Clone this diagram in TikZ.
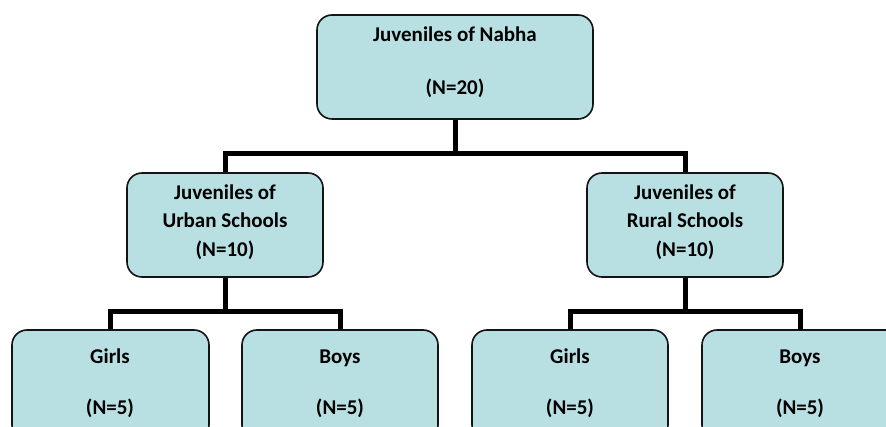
\documentclass[tikz,border=0pt]{standalone}
\usepackage{fontspec}
\setmainfont{Carlito}
\definecolor{boxfill}{RGB}{184,223,226}
\definecolor{boxline}{RGB}{20,20,20}
\begin{document}
\begin{tikzpicture}[x=1pt,y=-1pt,
  box/.style={draw=boxline,line width=1.6pt,fill=boxfill,rounded corners=15pt,inner sep=0pt},
  lbl/.style={font=\fontsize{21}{25}\selectfont\bfseries,inner sep=0pt,anchor=base},
  conn/.style={line width=5pt,draw=black}]
\useasboundingbox (0,0) rectangle (886,427);
\clip (0,0) rectangle (886,427);
% boxes
\node[box,minimum width=276pt,minimum height=104pt] (top) at (455,67) {};
\node[box,minimum width=196pt,minimum height=104pt] (ml) at (225,225) {};
\node[box,minimum width=196pt,minimum height=104pt] (mr) at (685,225) {};
\node[box,minimum width=197pt,minimum height=110pt] (g1) at (110.5,385) {};
\node[box,minimum width=196pt,minimum height=110pt] (b1) at (340,385) {};
\node[box,minimum width=196pt,minimum height=110pt] (g2) at (570,385) {};
\node[box,minimum width=216pt,minimum height=110pt] (b2) at (810,385) {};
% connectors
\coordinate (bar0) at (455,154);
\coordinate (bar1) at (225,312);
\coordinate (bar2) at (685,312);
\coordinate (b2top) at (800,330);
\draw[conn] (top.south) -- (bar0);
\draw[conn] (ml.north) |- (bar0) -| (mr.north);
\draw[conn] (ml.south) -- (bar1);
\draw[conn] (g1.north) |- (bar1) -| (b1.north);
\draw[conn] (mr.south) -- (bar2);
\draw[conn] (g2.north) |- (bar2) -| (b2top);
% texts
\node[lbl] (t1) at (455,42) {Juveniles of Nabha};
\node[lbl] (t2) at (455,95) {(N=20)};
\node[lbl] (t3) at (225,200) {Juveniles of};
\node[lbl] (t4) at (225,228) {Urban Schools};
\node[lbl] (t5) at (225,257) {(N=10)};
\node[lbl] (t6) at (685,200) {Juveniles of};
\node[lbl] (t7) at (685,228) {Rural Schools};
\node[lbl] (t8) at (685,257) {(N=10)};
\node[lbl] (t9) at (110,364) {Girls};
\node[lbl] (t10) at (110,414) {(N=5)};
\node[lbl] (t11) at (340,364) {Boys};
\node[lbl] (t12) at (340,414) {(N=5)};
\node[lbl] (t13) at (570,364) {Girls};
\node[lbl] (t14) at (570,414) {(N=5)};
\node[lbl] (t15) at (800,364) {Boys};
\node[lbl] (t16) at (800,414) {(N=5)};
\end{tikzpicture}
\end{document}
